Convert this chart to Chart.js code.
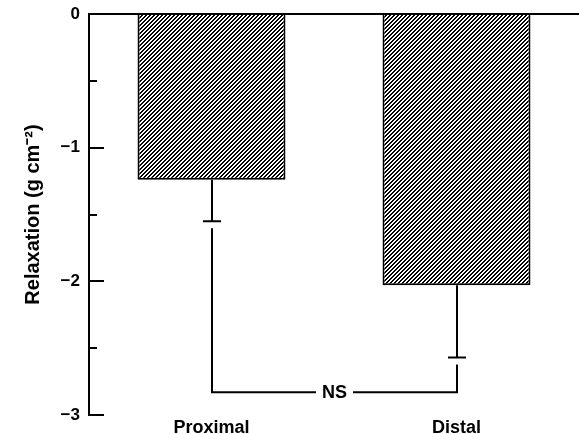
<!DOCTYPE html>
<html>
<head>
<meta charset="utf-8">
<script src="https://cdn.jsdelivr.net/npm/chart.js@4"></script>
<style>
  html, body { margin: 0; padding: 0; background: #fff; }
  #wrap { width: 579px; height: 434px; }
</style>
</head>
<body>
<div id="wrap"><canvas id="chart" width="579" height="434"></canvas></div>
<script>
// data
const categories = ['Proximal', 'Distal'];
const relaxation = [-1.24, -2.03];      // bar values (g cm^-2)
const errorLow = [-1.55, -2.57];        // end of the downward error bar
const bracketLevel = -2.83;             // NS comparison bracket
const bracketLabel = 'NS';
const yMin = -3, yMax = 0, yStep = 0.5;

const FONT = '"Liberation Sans", Arial, Helvetica, sans-serif';
Chart.defaults.font.family = FONT;
Chart.defaults.color = '#000';

// crisp diagonal hatching like the printed figure: 2px black / 2px white
function makeHatch() {
    const c = document.createElement('canvas');
    c.width = 4; c.height = 4;
    const g = c.getContext('2d');
    g.fillStyle = '#fff';
    g.fillRect(0, 0, 4, 4);
    g.fillStyle = '#000';
    for (let py = 0; py < 4; py++) {
        for (let px = 0; px < 4; px++) {
            if ((px + py) % 4 < 2) g.fillRect(px, py, 1, 1);
        }
    }
    return g.createPattern(c, 'repeat');
}

const minus = v => (v < 0 ? '\u2212' + Math.abs(v) : String(v));

// axis ticks (pointing inwards), zero line, error bars and the NS bracket
const extras = {
    id: 'extras',
    afterDatasetsDraw(chart) {
        const { ctx, chartArea: a, scales: { x, y } } = chart;
        ctx.save();
        ctx.strokeStyle = '#000';
        ctx.lineWidth = 2;
        ctx.lineCap = 'butt';

        // zero line across the whole plot
        const y0 = y.getPixelForValue(0);
        ctx.beginPath();
        ctx.moveTo(a.left, y0);
        ctx.lineTo(a.right, y0);
        ctx.stroke();

        // ticks
        y.ticks.forEach(t => {
            const py = Math.round(y.getPixelForValue(t.value));
            const len = Number.isInteger(t.value) ? 15 : 8;
            ctx.beginPath();
            ctx.moveTo(a.left, py);
            ctx.lineTo(a.left + len, py);
            ctx.stroke();
        });

        // error bars
        const capHalf = 9;
        relaxation.forEach((v, i) => {
            const px = Math.round(x.getPixelForValue(i));
            const yb = y.getPixelForValue(v);
            const ye = y.getPixelForValue(errorLow[i]);
            ctx.beginPath();
            ctx.moveTo(px, yb);
            ctx.lineTo(px, ye);
            ctx.moveTo(px - capHalf, ye);
            ctx.lineTo(px + capHalf, ye);
            ctx.stroke();
        });

        // bracket
        const yk = y.getPixelForValue(bracketLevel);
        const xs = relaxation.map((_, i) => Math.round(x.getPixelForValue(i)));
        const gap = 7;
        ctx.beginPath();
        xs.forEach((px, i) => {
            ctx.moveTo(px, y.getPixelForValue(errorLow[i]) + gap);
            ctx.lineTo(px, yk);
        });
        ctx.font = 'bold 18px ' + FONT;
        const mid = (xs[0] + xs[1]) / 2;
        const half = ctx.measureText(bracketLabel).width / 2 + 6;
        ctx.moveTo(xs[0] - 1, yk);
        ctx.lineTo(mid - half, yk);
        ctx.moveTo(mid + half, yk);
        ctx.lineTo(xs[1] + 1, yk);
        ctx.stroke();

        ctx.fillStyle = '#000';
        ctx.textAlign = 'center';
        ctx.textBaseline = 'middle';
        ctx.fillText(bracketLabel, mid, yk + 1);
        ctx.restore();
    }
};

new Chart(document.getElementById('chart'), {
    type: 'bar',
    data: {
        labels: categories,
        datasets: [{
            data: relaxation,
            backgroundColor: makeHatch(),
            borderColor: '#000',
            borderWidth: 2,
            borderSkipped: 'start',
            barPercentage: 0.604,
            categoryPercentage: 1
        }]
    },
    options: {
        responsive: false,
        animation: false,
        layout: { padding: { top: 14, right: 0, bottom: 0, left: 0 } },
        plugins: { legend: { display: false }, tooltip: { enabled: false } },
        scales: {
            x: {
                grid: { display: false, drawTicks: false },
                border: { display: false },
                ticks: { font: { size: 18, weight: 'bold' }, color: '#000', padding: 2 },
                afterFit: s => { s.height = 19; }
            },
            y: {
                min: yMin, max: yMax,
                grid: { display: false, drawTicks: false },
                border: { display: true, color: '#000', width: 2 },
                ticks: {
                    stepSize: yStep,
                    padding: 9,
                    color: '#000',
                    font: { size: 17, weight: 'bold' },
                    callback: v => (Number.isInteger(v) ? minus(v) : '')
                },
                title: {
                    display: true,
                    text: 'Relaxation (g cm\u207B\u00B2)',
                    font: { size: 20, weight: 'bold' },
                    color: '#000',
                    padding: { top: 21, bottom: 0 }
                },
                afterFit: s => { s.width = 89; s.paddingTop = 0; s.paddingBottom = 0; }
            }
        }
    },
    plugins: [extras]
});
</script>
</body>
</html>
